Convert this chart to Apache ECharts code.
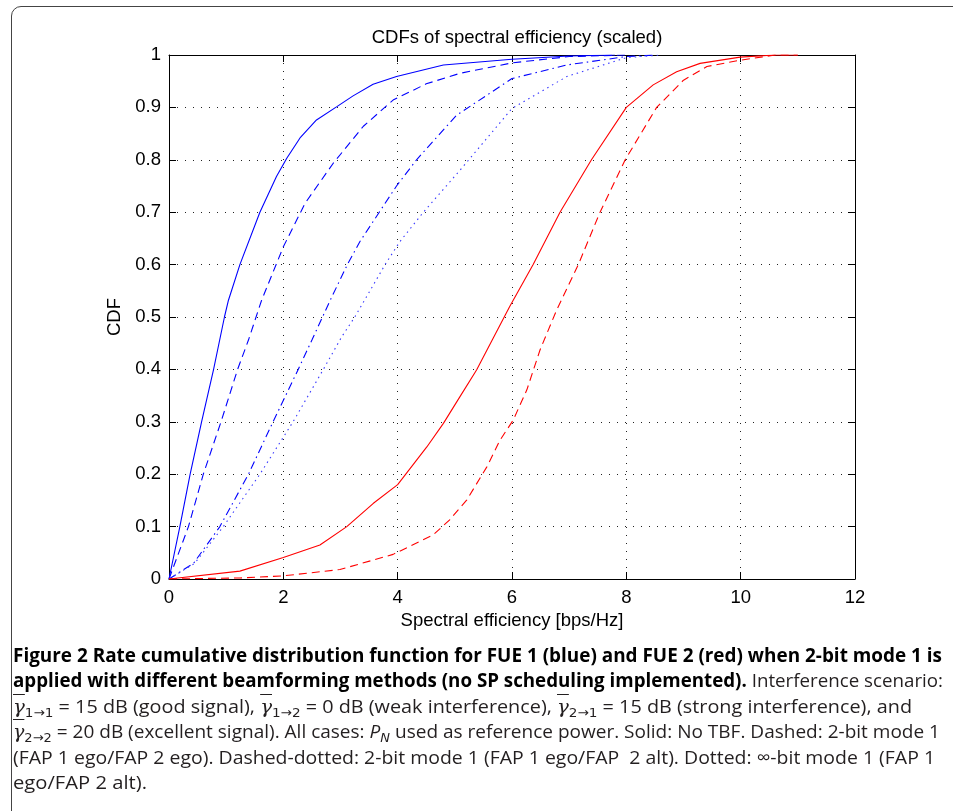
<!DOCTYPE html>
<html>
<head>
<meta charset="utf-8">
<script src="https://cdn.jsdelivr.net/npm/echarts@6/dist/echarts.min.js"></script>
<style>
  html, body { margin: 0; padding: 0; background: #fff; }
  body { width: 953px; height: 811px; position: relative; overflow: hidden; }
  .frame { position: absolute; left: 11px; top: 6px; width: 980px; height: 830px;
           border: 1.5px solid #444; border-radius: 10px; box-sizing: border-box; }
  #chart { position: absolute; left: 0; top: 0; width: 953px; height: 811px; }
  .caption { position: absolute; left: 13px; top: 643px; font-family: "Open Sans", "Noto Sans", sans-serif;
             font-size: 19px; color: #231f20; }
  .caption .ln { white-space: nowrap; height: 25.4px; line-height: 25.4px; }
  .caption .ln span.inner { display: inline-block; transform-origin: 0 50%; }
  .caption b { color: #000; font-weight: 700; }
  .g { font-family: "DejaVu Serif", serif; font-style: italic; text-decoration: overline; }
  sub { font-family: "DejaVu Sans", sans-serif; font-size: 13px; vertical-align: -4px; line-height: 0; }
</style>
</head>
<body>
<div class="frame"></div>
<div id="chart"></div>
<div class="caption">
  <div class="ln" data-w="929"><span class="inner"><b>Figure 2 Rate cumulative distribution function for FUE 1 (blue) and FUE 2 (red) when 2-bit mode 1 is</b></span></div>
  <div class="ln" data-w="930"><span class="inner"><b>applied with different beamforming methods (no SP scheduling implemented).</b> Interference scenario:</span></div>
  <div class="ln" data-w="899"><span class="inner"><span class="g">γ</span><sub>1→1</sub> = 15 dB (good signal), <span class="g">γ</span><sub>1→2</sub> = 0 dB (weak interference), <span class="g">γ</span><sub>2→1</sub> = 15 dB (strong interference), and</span></div>
  <div class="ln" data-w="927"><span class="inner"><span class="g">γ</span><sub>2→2</sub> = 20 dB (excellent signal). All cases: <i>P</i><sub><i>N</i></sub> used as reference power. Solid: No TBF. Dashed: 2-bit mode 1</span></div>
  <div class="ln" data-w="922"><span class="inner">(FAP 1 ego/FAP 2 ego). Dashed-dotted: 2-bit mode 1 (FAP 1 ego/FAP&nbsp; 2 alt). Dotted: ∞-bit mode 1 (FAP 1</span></div>
  <div class="ln" data-w="134"><span class="inner">ego/FAP 2 alt).</span></div>
</div>
<script>
// FUE 1 (blue)
var blueSolidX = [0, 0.19, 0.37, 0.57, 0.78, 0.97, 1.04, 1.24, 1.59, 1.88, 2.06, 2.3, 2.58, 2.93, 3.22, 3.57, 3.98, 4.8, 6.0, 7.0, 7.8];
var blueSolidY = [0, 0.1, 0.2, 0.3, 0.4, 0.5, 0.532, 0.6, 0.7, 0.768, 0.803, 0.843, 0.876, 0.901, 0.922, 0.944, 0.959, 0.981, 0.992, 0.998, 1];
var blueDashX = [0, 0.34, 0.6, 0.91, 1.2, 1.39, 1.62, 2.0, 2.38, 2.87, 3.4, 3.92, 4.5, 5.09, 6.0, 7.0, 8.0];
var blueDashY = [0, 0.1, 0.2, 0.3, 0.4, 0.456, 0.532, 0.634, 0.717, 0.793, 0.864, 0.914, 0.945, 0.965, 0.985, 0.997, 1];
var blueDashDotX = [0, 0.43, 0.89, 1.39, 1.82, 2.26, 2.5, 2.82, 3.12, 3.34, 3.98, 4.33, 5.03, 6.0, 6.96, 8.0, 8.5];
var blueDashDotY = [0, 0.03, 0.1, 0.2, 0.3, 0.4, 0.456, 0.532, 0.6, 0.644, 0.75, 0.8, 0.885, 0.955, 0.981, 0.997, 1];
var blueDotX = [0, 0.45, 0.95, 1.59, 2.17, 2.7, 3.02, 3.25, 3.78, 4.04, 4.45, 5.09, 6.0, 6.96, 8.0, 8.6];
var blueDotY = [0, 0.03, 0.1, 0.2, 0.3, 0.4, 0.462, 0.5, 0.6, 0.644, 0.7, 0.78, 0.898, 0.959, 0.995, 1];
// FUE 2 (red)
var redSolidX = [0, 1.24, 2.0, 2.64, 3.11, 3.57, 4.0, 4.51, 4.8, 5.09, 5.38, 5.96, 6.37, 6.84, 7.39, 8.0, 8.47, 8.88, 9.29, 9.99, 10.6, 11.0];
var redSolidY = [0, 0.015, 0.041, 0.065, 0.1, 0.144, 0.18, 0.252, 0.297, 0.348, 0.399, 0.52, 0.6, 0.7, 0.8, 0.9, 0.943, 0.968, 0.984, 0.996, 1, 1];
var redDashX = [0, 1.24, 2.0, 2.99, 3.92, 4.62, 4.91, 5.21, 5.56, 5.79, 6.02, 6.26, 6.49, 6.78, 7.16, 7.54, 7.98, 8.53, 9.0, 9.41, 9.99, 10.6, 11.0];
var redDashY = [0, 0.002, 0.006, 0.018, 0.047, 0.084, 0.113, 0.151, 0.214, 0.265, 0.303, 0.361, 0.437, 0.513, 0.6, 0.7, 0.8, 0.9, 0.952, 0.978, 0.99, 1, 1];

var xTicks = [0, 2, 4, 6, 8, 10, 12];
var yTicks = [0, 0.1, 0.2, 0.3, 0.4, 0.5, 0.6, 0.7, 0.8, 0.9, 1];

function pairs(xs, ys) {
  return xs.map(function (x, i) { return [x, ys[i]]; });
}

var font = 'Liberation Sans, Arial, Helvetica, sans-serif';
var fs = 18.5;
var tickStyle = { show: true, inside: true, length: 7, lineStyle: { color: '#000', width: 1 } };

var chart = echarts.init(document.getElementById('chart'), null, { renderer: 'canvas' });

function line(name, xs, ys, color, type) {
  return {
    name: name, type: 'line', data: pairs(xs, ys), showSymbol: false, symbol: 'none',
    xAxisIndex: 0, yAxisIndex: 0, animation: false,
    lineStyle: { color: color, width: 1.1, type: type }
  };
}

chart.setOption({
  animation: false,
  title: {
    text: 'CDFs of spectral efficiency (scaled)', left: 512, top: 23, textAlign: 'center',
    textStyle: { fontFamily: font, fontSize: fs, fontWeight: 'normal', color: '#000' }
  },
  grid: { left: 169, top: 55, width: 686, height: 524, outerBoundsMode: 'none', containLabel: false },
  xAxis: [{
    type: 'value', min: 0, max: 12, interval: 2, position: 'bottom',
    name: 'Spectral efficiency [bps/Hz]', nameLocation: 'middle', nameGap: 30,
    nameTextStyle: { fontFamily: font, fontSize: fs, color: '#000' },
    axisLine: { show: true, onZero: false, lineStyle: { color: '#000', width: 1 } },
    axisTick: tickStyle,
    axisLabel: { fontFamily: font, fontSize: fs, color: '#000', margin: 9,
                 formatter: function (v) { return xTicks.indexOf(v) >= 0 ? String(v) : ''; } },
    splitLine: { show: true, lineStyle: { color: '#222', width: 1, type: [1, 7] } }
  }, {
    type: 'value', min: 0, max: 12, interval: 2, position: 'top',
    axisLine: { show: true, onZero: false, lineStyle: { color: '#000', width: 1 } },
    axisTick: tickStyle, axisLabel: { show: false }, splitLine: { show: false }
  }],
  yAxis: [{
    type: 'value', min: 0, max: 1, interval: 0.1, position: 'left',
    name: 'CDF', nameLocation: 'middle', nameGap: 41,
    nameTextStyle: { fontFamily: font, fontSize: fs, color: '#000' },
    axisLine: { show: true, onZero: false, lineStyle: { color: '#000', width: 1 } },
    axisTick: tickStyle,
    axisLabel: { fontFamily: font, fontSize: fs, color: '#000', margin: 8,
                 formatter: function (v) {
                   var r = Math.round(v * 10) / 10;
                   return yTicks.indexOf(r) >= 0 ? String(r) : '';
                 } },
    splitLine: { show: true, lineStyle: { color: '#222', width: 1, type: [1, 7] } }
  }, {
    type: 'value', min: 0, max: 1, interval: 0.1, position: 'right',
    axisLine: { show: true, onZero: false, lineStyle: { color: '#000', width: 1 } },
    axisTick: tickStyle, axisLabel: { show: false }, splitLine: { show: false }
  }],
  series: [
    line('FUE 1 No TBF', blueSolidX, blueSolidY, '#0000ff', 'solid'),
    line('FUE 1 2-bit ego/ego', blueDashX, blueDashY, '#0000ff', [8, 5]),
    line('FUE 1 2-bit ego/alt', blueDashDotX, blueDashDotY, '#0000ff', [8, 4, 1.5, 4]),
    line('FUE 1 inf-bit ego/alt', blueDotX, blueDotY, '#3a3aff', [1.5, 4]),
    line('FUE 2 No TBF', redSolidX, redSolidY, '#ff0000', 'solid'),
    line('FUE 2 2-bit ego/ego', redDashX, redDashY, '#ff0000', [8, 5])
  ]
});

// stretch each caption line to the width it has in the printed figure
document.querySelectorAll('.caption .ln').forEach(function (ln) {
  var inner = ln.querySelector('.inner');
  var w = inner.getBoundingClientRect().width;
  var target = +ln.getAttribute('data-w');
  inner.style.transform = 'scaleX(' + (target / w) + ')';
});
</script>
</body>
</html>
